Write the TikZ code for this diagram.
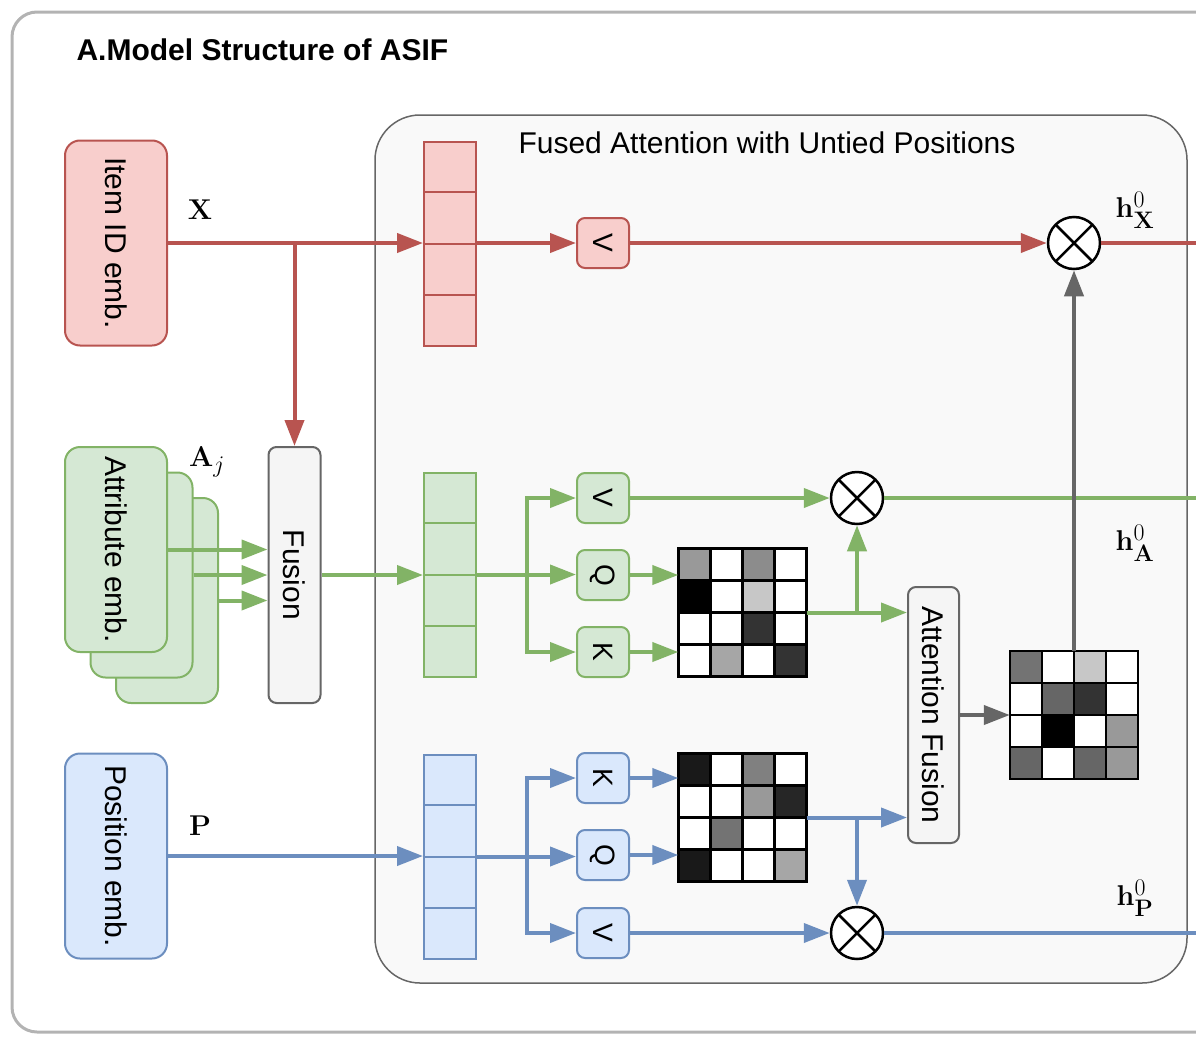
\documentclass[tikz,border=0pt]{standalone}
\usepackage{amsmath,amssymb}
\usepackage[no-math]{fontspec}
\setmainfont{Liberation Sans}
\usepackage{xcolor}
\usepackage{tikz}
\usetikzlibrary{arrows.meta,shapes,positioning,calc}
\definecolor{itemred}{HTML}{B85450}
\definecolor{itemfill}{HTML}{F8CECC}
\definecolor{attrgreen}{HTML}{82B366}
\definecolor{attrfill}{HTML}{D5E8D4}
\definecolor{posblue}{HTML}{6C8EBF}
\definecolor{posfill}{HTML}{DAE8FC}
\definecolor{fusegray}{HTML}{666666}
\definecolor{fusefill}{HTML}{F5F5F5}
\definecolor{framegray}{HTML}{B3B3B3}
\definecolor{panelfill}{HTML}{F9F9F9}
\newcommand{\embfont}{\fontsize{30}{36}\selectfont}
\newcommand{\projfont}{\fontsize{28}{34}\selectfont}
\newcommand{\labfont}{\fontsize{24.88}{30}\selectfont}
\newcommand{\headfont}{\fontsize{30}{36}\selectfont\bfseries}
\newcommand{\biglab}[1]{\scalebox{1.15}{#1}}
% 4x4 attention map drawn inside a named node
\newcommand{\heatmap}[2]{%
  \foreach \g [count=\k from 0] in {#2} {%
    \pgfmathtruncatemacro{\hrow}{div(\k,4)}%
    \pgfmathtruncatemacro{\hcol}{mod(\k,4)}%
    \fill[black!\g] ($(#1.north west)+(\hcol*32,\hrow*32)$) rectangle ++(32,32);
  }%
  \foreach \t in {0,...,4} {%
    \draw[line width=2.5pt, line cap=rect] ($(#1.north west)+(\t*32,0)$) -- ++(0,128);
    \draw[line width=2.5pt, line cap=rect] ($(#1.north west)+(0,\t*32)$) -- ++(128,0);
  }%
}

\begin{document}
\begin{tikzpicture}[
    x=1pt, y=-1pt,
    embbox/.style={rectangle, rounded corners=15pt, line width=2pt, minimum width=102pt, minimum height=205pt, inner sep=0pt, font=\embfont},
    fusebox/.style={rectangle, rounded corners=8pt, draw=fusegray, fill=fusefill, line width=2pt, minimum width=52pt, minimum height=256pt, inner sep=0pt, font=\embfont},
    vecbox/.style={rectangle, line width=2pt, minimum width=52pt, minimum height=204pt, inner sep=0pt},
    projbox/.style={rectangle, rounded corners=8pt, line width=2pt, minimum width=52pt, minimum height=50pt, inner sep=0pt, font=\projfont},
    mulnode/.style={circle, draw=black, line width=2.5pt, fill=white, minimum size=52pt, inner sep=0pt,
        path picture={\draw[line width=2.5pt] (path picture bounding box.north west) -- (path picture bounding box.south east)
                                              (path picture bounding box.south west) -- (path picture bounding box.north east);}},
    heat/.style={rectangle, minimum size=128pt, inner sep=0pt},
    flow/.style={line width=4pt, -{Triangle[length=26pt,width=19pt]}},
    link/.style={line width=4pt},
    mathlabel/.style={font=\labfont, inner sep=0pt}
]
    \useasboundingbox (0,0) rectangle (1196,1036);
    \begin{scope}
        \clip (0,0) rectangle (1196,1036);
        \draw[framegray, line width=3pt, rounded corners=25pt] (12,12) rectangle (1300,1032);
    \end{scope}
    \node[anchor=west, font=\headfont] (title) at (73,50) {A.Model Structure of ASIF};

    % attention panel
    \node[rectangle, draw=fusegray, fill=panelfill, line width=1.5pt, rounded corners=45pt,
          minimum width=812pt, minimum height=868pt] (panel) at (781,549) {};
    \node[font=\embfont] (paneltitle) at (767,143) {Fused Attention with Untied Positions};

    % embeddings
    \node[embbox, draw=itemred, fill=itemfill] (item) at (116,243) {\rotatebox{-90}{Item ID emb.}};
    \node[embbox, draw=attrgreen, fill=attrfill] (attr3) at (167,600.5) {};
    \node[embbox, draw=attrgreen, fill=attrfill] (attr2) at (141.5,575) {};
    \node[embbox, draw=attrgreen, fill=attrfill] (attr1) at (116,549.5) {\rotatebox{-90}{Attribute emb.}};
    \node[embbox, draw=posblue, fill=posfill] (pos) at (116,856) {\rotatebox{-90}{Position emb.}};
    \node[fusebox] (fusion) at (294.5,575) {\rotatebox{-90}{Fusion}};

    \node[mathlabel] (xlab) at (200,210) {\biglab{$\mathbf{X}$}};
    \node[mathlabel] (alab) at (207,462) {\biglab{$\mathbf{A}_j$}};
    \node[mathlabel] (plab) at (200,826) {\biglab{$\mathbf{P}$}};

    % sequence vectors
    \node[vecbox, draw=itemred, fill=itemfill] (xvec) at (450,243.5) {};
    \node[vecbox, draw=attrgreen, fill=attrfill] (avec) at (450,574.5) {};
    \node[vecbox, draw=posblue, fill=posfill] (pvec) at (450,856.5) {};
    \foreach \v/\c in {xvec/itemred, avec/attrgreen, pvec/posblue}
        \foreach \i in {1,2,3}
            \draw[\c, line width=2pt] ($(\v.north west)!\i/4!(\v.south west)$) -- ($(\v.north east)!\i/4!(\v.south east)$);

    % projections
    \node[projbox, draw=itemred, fill=itemfill] (xv) at (603,243) {\rotatebox{-90}{V}};
    \node[projbox, draw=attrgreen, fill=attrfill] (av) at (603,498) {\rotatebox{-90}{V}};
    \node[projbox, draw=attrgreen, fill=attrfill] (aq) at (603,575) {\rotatebox{-90}{Q}};
    \node[projbox, draw=attrgreen, fill=attrfill] (ak) at (603,652) {\rotatebox{-90}{K}};
    \node[projbox, draw=posblue, fill=posfill] (pk) at (603,778) {\rotatebox{-90}{K}};
    \node[projbox, draw=posblue, fill=posfill] (pq) at (603,855) {\rotatebox{-90}{Q}};
    \node[projbox, draw=posblue, fill=posfill] (pv) at (603,933) {\rotatebox{-90}{V}};

    % attention maps
    \node[heat] (attA) at (742.5,612.5) {};
    \heatmap{attA}{40,0,45,0, 100,0,22,0, 0,0,80,0, 0,35,0,80}
    \node[heat] (attP) at (742.5,817.5) {};
    \heatmap{attP}{90,0,50,0, 0,0,40,85, 0,55,0,0, 90,0,0,35}
    \node[heat] (attF) at (1074,715) {};
    \heatmap{attF}{55,0,22,0, 0,60,80,0, 0,100,0,40, 60,0,60,40}
    \node[fusebox, minimum width=51pt] (afuse) at (933.5,715) {\rotatebox{-90}{Attention Fusion}};

    % products
    \node[mulnode] (mulX) at (1074,243) {};
    \node[mulnode] (mulA) at (857,498) {};
    \node[mulnode] (mulP) at (857,933) {};
    \coordinate (outX) at (1196,243);
    \coordinate (outA) at (1196,498);
    \coordinate (outP) at (1196,933);
    \node[mathlabel] (hxlab) at (1135,210) {\biglab{$\mathbf{h}^0_{\mathbf{X}}$}};
    \node[mathlabel] (halab) at (1135,543) {\biglab{$\mathbf{h}^0_{\mathbf{A}}$}};
    \node[mathlabel] (hplab) at (1135,898) {\biglab{$\mathbf{h}^0_{\mathbf{P}}$}};

    % item id flow
    \draw[flow, itemred] (item.east) -- (item.east -| xvec.west);
    \draw[flow, itemred] (fusion.north |- item.east) -- (fusion.north);
    \draw[flow, itemred] (xv.west -| xvec.east) -- (xv.west);
    \draw[flow, itemred] (xv.east) -- (mulX.west);
    \draw[link, itemred] (mulX.east) -- (outX);

    % attribute flow
    \foreach \a in {attr1,attr2,attr3}
        \draw[flow, attrgreen] (\a.east) -- (\a.east -| fusion.west);
    \draw[flow, attrgreen] (fusion.east) -- (fusion.east -| avec.west);
    \draw[flow, attrgreen] (avec.east) -- ++(50,0) |- (av.west);
    \draw[flow, attrgreen] (avec.east) -- (avec.east -| aq.west);
    \draw[flow, attrgreen] (avec.east) -- ++(50,0) |- (ak.west);
    \draw[flow, attrgreen] (aq.east) -- (aq.east -| attA.west);
    \draw[flow, attrgreen] (ak.east) -- (ak.east -| attA.west);
    \draw[flow, attrgreen] (av.east) -- (mulA.west);
    \draw[flow, attrgreen] (attA.east) -- (attA.east -| afuse.west);
    \draw[flow, attrgreen] (attA.east -| mulA.south) -- (mulA.south);
    \draw[link, attrgreen] (mulA.east) -- (outA);

    % position flow
    \draw[flow, posblue] (pos.east) -- (pos.east -| pvec.west);
    \draw[flow, posblue] (pvec.east) -- ++(50,0) |- (pk.west);
    \draw[flow, posblue] (pvec.east) -- (pvec.east -| pq.west);
    \draw[flow, posblue] (pvec.east) -- ++(50,0) |- (pv.west);
    \draw[flow, posblue] (pk.east) -- (pk.east -| attP.west);
    \draw[flow, posblue] (pq.east) -- (pq.east -| attP.west);
    \draw[flow, posblue] (pv.east) -- (mulP.west);
    \draw[flow, posblue] (attP.east) -- (attP.east -| afuse.west);
    \draw[flow, posblue] (attP.east -| mulP.north) -- (mulP.north);
    \draw[link, posblue] (mulP.east) -- (outP);

    % fused map
    \draw[flow, fusegray] (afuse.east) -- (attF.west);
    \draw[flow, fusegray] (attF.north) -- (mulX.south);
\end{tikzpicture}
\end{document}
